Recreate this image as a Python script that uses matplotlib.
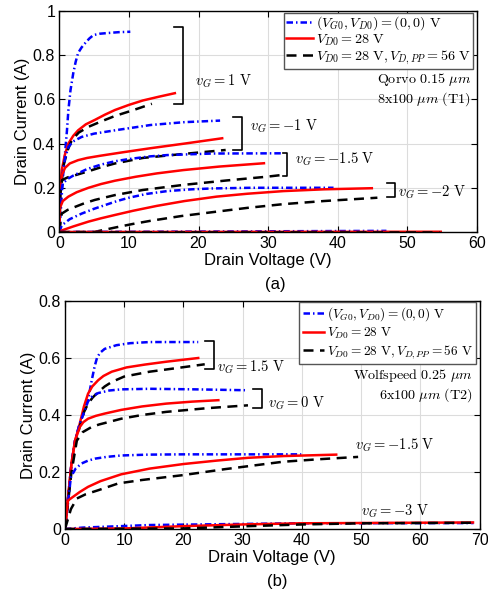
import matplotlib
matplotlib.use('Agg')
import matplotlib.pyplot as plt

plt.rcParams['font.family'] = ['Liberation Sans', 'DejaVu Sans']
plt.rcParams['mathtext.fontset'] = 'cm'

# ---- panel (a): Qorvo 0.15 um, 8x100 um (T1) ----
a_blue_1_V = [0, 0.2, 0.5, 0.82, 1.1, 1.3, 1.6, 2.0, 2.35, 2.7, 3.2, 3.7, 4.3, 4.9, 5.8, 6.9, 8.5, 10.2]
a_blue_1_I = [0, 0.09, 0.24, 0.356, 0.46, 0.55, 0.64, 0.718, 0.77, 0.81, 0.835, 0.854, 0.875, 0.891, 0.897, 0.9, 0.904, 0.906]
a_red_1_V = [0, 0.1, 0.35, 0.8, 1.3, 2.0, 2.7, 3.8, 5.1, 6.5, 8, 10, 12, 14.3, 16.6]
a_red_1_I = [0, 0.18, 0.28, 0.35, 0.4, 0.435, 0.46, 0.487, 0.507, 0.53, 0.552, 0.575, 0.595, 0.612, 0.628]
a_blk_1_V = [0, 0.15, 0.6, 1.2, 1.8, 2.8, 4.2, 6, 8, 10.5, 13.3]
a_blk_1_I = [0, 0.17, 0.3, 0.37, 0.416, 0.45, 0.476, 0.5, 0.525, 0.55, 0.58]

a_blue_m1_V = [0, 0.1, 0.35, 0.8, 1.3, 2.0, 3.2, 5, 8, 13.1, 18, 23.1]
a_blue_m1_I = [0, 0.17, 0.235, 0.33, 0.385, 0.41, 0.43, 0.445, 0.46, 0.484, 0.497, 0.504]
a_red_m1_V = [0, 0.1, 0.4, 0.82, 1.5, 2.7, 4, 5.9, 9, 13.1, 18, 23.4]
a_red_m1_I = [0, 0.2, 0.26, 0.29, 0.31, 0.325, 0.335, 0.345, 0.36, 0.379, 0.4, 0.424]
a_blk_m1_V = [0, 0.1, 0.4, 1.2, 2.3, 4.2, 6, 8, 12, 17.8, 23.9]
a_blk_m1_I = [0, 0.17, 0.235, 0.247, 0.257, 0.275, 0.293, 0.31, 0.335, 0.353, 0.371]

a_blue_m15_V = [0, 0.1, 0.5, 1.2, 2, 3, 4, 6, 8, 10, 13, 15.5, 22, 32.2]
a_blue_m15_I = [0, 0.15, 0.22, 0.24, 0.255, 0.27, 0.285, 0.305, 0.32, 0.33, 0.342, 0.348, 0.355, 0.356]
a_red_m15_V = [0, 0.1, 0.5, 1.3, 2.5, 4.2, 6, 8, 11, 14, 17.8, 23, 29.4]
a_red_m15_I = [0, 0.11, 0.14, 0.16, 0.18, 0.2, 0.217, 0.232, 0.25, 0.265, 0.28, 0.296, 0.311]
a_blk_m15_V = [0, 0.35, 1.2, 2.3, 3.6, 5.1, 8, 12, 17.8, 24, 29.8, 32]
a_blk_m15_I = [0, 0.083, 0.1, 0.114, 0.13, 0.145, 0.167, 0.19, 0.213, 0.233, 0.25, 0.258]

a_blue_m2_V = [0, 0.35, 1.5, 3.2, 5, 6.6, 8.3, 10, 12.5, 15.5, 19, 22, 27.5, 39.4]
a_blue_m2_I = [0, 0.03, 0.058, 0.083, 0.105, 0.122, 0.14, 0.155, 0.172, 0.185, 0.193, 0.197, 0.2, 0.2]
a_red_m2_V = [0, 0.35, 2, 4.2, 6, 8, 10.6, 14, 18, 22.6, 27, 32.2, 38, 44.9]
a_red_m2_I = [0, 0.007, 0.025, 0.047, 0.062, 0.077, 0.096, 0.118, 0.14, 0.16, 0.173, 0.185, 0.193, 0.198]
a_blk_m2_V = [0, 5, 8, 10.5, 13, 17.5, 22.6, 27, 32.2, 38, 45.7]
a_blk_m2_I = [0, 0.0, 0.02, 0.036, 0.05, 0.072, 0.092, 0.109, 0.126, 0.14, 0.155]

a_blue_off_V = [0, 20, 47]
a_blue_off_I = [0, 0.002, 0.005]
a_red_off_V = [0, 54.8]
a_red_off_I = [0, 0.001]
a_blk_off_V = [0, 54.5]
a_blk_off_I = [0, 0.0]

# ---- panel (b): Wolfspeed 0.25 um, 6x100 um (T2) ----
b_blue_15_V = [0, 1.1, 1.7, 2.5, 3.4, 4.0, 4.5, 5.0, 5.4, 5.9, 6.7, 8.7, 11, 14.3, 22.5]
b_blue_15_I = [0, 0.23, 0.31, 0.37, 0.42, 0.465, 0.52, 0.57, 0.6, 0.618, 0.632, 0.645, 0.652, 0.656, 0.656]
b_red_15_V = [0, 1.1, 1.7, 2.5, 3.2, 3.9, 4.6, 5.6, 6.5, 7.9, 10.4, 13.5, 17.1, 22.5]
b_red_15_I = [0, 0.23, 0.31, 0.37, 0.43, 0.475, 0.5, 0.522, 0.537, 0.552, 0.567, 0.577, 0.587, 0.6]
b_blk_15_V = [0, 1.1, 1.7, 2.5, 3.2, 3.9, 4.7, 5.6, 6.7, 7.9, 10, 14.3, 19, 23.6]
b_blk_15_I = [0, 0.22, 0.3, 0.36, 0.41, 0.44, 0.462, 0.48, 0.5, 0.516, 0.535, 0.552, 0.565, 0.578]

b_blue_0_V = [0, 1.1, 1.7, 2.5, 3.4, 3.9, 4.6, 5.6, 7.5, 9.5, 14.3, 22, 30.4]
b_blue_0_I = [0, 0.23, 0.31, 0.37, 0.42, 0.448, 0.465, 0.477, 0.486, 0.49, 0.492, 0.49, 0.487]
b_red_0_V = [0, 1.1, 1.7, 2.5, 3.1, 3.9, 5.2, 6.7, 9.5, 13, 17.1, 21.5, 25.9]
b_red_0_I = [0, 0.23, 0.31, 0.358, 0.375, 0.387, 0.397, 0.405, 0.418, 0.43, 0.44, 0.447, 0.452]
b_blk_0_V = [0, 1.1, 2.0, 3.0, 4.5, 5.8, 7.3, 9.5, 13, 17.1, 24, 30.9]
b_blk_0_I = [0, 0.2, 0.31, 0.34, 0.358, 0.367, 0.375, 0.387, 0.4, 0.411, 0.424, 0.434]

b_blue_m15_V = [0, 1.0, 1.8, 2.8, 3.9, 5.1, 7, 9.5, 14, 20, 39.9]
b_blue_m15_I = [0, 0.183, 0.212, 0.23, 0.24, 0.247, 0.253, 0.258, 0.261, 0.262, 0.262]
b_red_m15_V = [0, 0.5, 1.5, 2.5, 3.9, 6, 9.5, 14.3, 20, 25.6, 31, 36.9, 45.8]
b_red_m15_I = [0, 0.1, 0.115, 0.13, 0.148, 0.168, 0.192, 0.212, 0.228, 0.24, 0.25, 0.256, 0.261]
b_blk_m15_V = [0, 1.0, 2.0, 3.5, 5.6, 9, 13, 19.9, 27, 36.8, 43, 49.5]
b_blk_m15_I = [0, 0.07, 0.107, 0.122, 0.136, 0.16, 0.172, 0.189, 0.21, 0.236, 0.245, 0.253]

b_blue_m3_V = [0, 3, 14.3, 39, 69]
b_blue_m3_I = [0, 0.005, 0.014, 0.02, 0.021]
b_red_m3_V = [0, 10, 20, 30, 39.6, 68.9]
b_red_m3_I = [0, 0.002, 0.01, 0.016, 0.02, 0.023]
b_blk_m3_V = [0, 20, 31, 40, 50, 69]
b_blk_m3_I = [0, 0.002, 0.01, 0.016, 0.02, 0.022]

legend_labels = [r'$(V_{G0},V_{D0})=(0,0)\ \mathrm{V}$',
                 r'$V_{D0}=28\ \mathrm{V}$',
                 r'$V_{D0}=28\ \mathrm{V},V_{D,PP}=56\ \mathrm{V}$']

blue_kw = dict(color='#0000ff', lw=1.8, dashes=[2.6, 1.2, 0.6, 1.2])
red_kw = dict(color='#ff0000', lw=1.8)
blk_kw = dict(color='k', lw=1.8, dashes=[4, 2.6])


def style_axes(ax):
    ax.grid(True, color='#dcdcdc', lw=0.8)
    ax.set_axisbelow(True)
    ax.tick_params(direction='in', top=True, right=True, length=4, labelsize=11.5, pad=3)
    for s in ax.spines.values():
        s.set_linewidth(1.0)


def bracket(ax, x, y0, y1, w):
    ax.plot([x - w, x, x, x - w], [y0, y0, y1, y1], color='k', lw=1.2)


fig = plt.figure(figsize=(4.89, 5.93), dpi=100)

# ---------- (a) ----------
ax1 = fig.add_axes([0.1213, 0.6088, 0.854, 0.3727])
groups_a = [(a_blue_1_V, a_blue_1_I, a_red_1_V, a_red_1_I, a_blk_1_V, a_blk_1_I),
            (a_blue_m1_V, a_blue_m1_I, a_red_m1_V, a_red_m1_I, a_blk_m1_V, a_blk_m1_I),
            (a_blue_m15_V, a_blue_m15_I, a_red_m15_V, a_red_m15_I, a_blk_m15_V, a_blk_m15_I),
            (a_blue_m2_V, a_blue_m2_I, a_red_m2_V, a_red_m2_I, a_blk_m2_V, a_blk_m2_I),
            (a_blue_off_V, a_blue_off_I, a_red_off_V, a_red_off_I, a_blk_off_V, a_blk_off_I)]
h = []
for g in groups_a:
    l1, = ax1.plot(g[0], g[1], **blue_kw)
    l2, = ax1.plot(g[2], g[3], **red_kw)
    l3, = ax1.plot(g[4], g[5], **blk_kw)
    h = [l1, l2, l3]
ax1.set_xlim(0, 60)
ax1.set_ylim(0, 1)
ax1.set_xticks([0, 10, 20, 30, 40, 50, 60])
ax1.set_yticks([0, 0.2, 0.4, 0.6, 0.8, 1])
ax1.set_yticklabels(['0', '0.2', '0.4', '0.6', '0.8', '1'])
style_axes(ax1)
ax1.set_xlabel('Drain Voltage (V)', fontsize=12, labelpad=1)
ax1.set_ylabel('Drain Current (A)', fontsize=12, labelpad=2)
leg = ax1.legend(h, legend_labels, loc='upper right', bbox_to_anchor=(0.99, 0.993),
                 borderaxespad=0, fontsize=10.2, fancybox=False, framealpha=1,
                 edgecolor='#555555', handlelength=1.9, handletextpad=0.2,
                 labelspacing=0.0, borderpad=0.15)
leg.get_frame().set_linewidth(1.0)

bracket(ax1, 17.8, 0.579, 0.929, 1.3)
bracket(ax1, 26.2, 0.371, 0.52, 1.3)
bracket(ax1, 32.7, 0.253, 0.357, 0.6)
bracket(ax1, 48.2, 0.158, 0.222, 1.1)
tk = dict(fontsize=10.5, va='center', ha='left')
ax1.text(19.5, 0.68, r'$v_G=1\ \mathrm{V}$', **tk)
ax1.text(27.4, 0.48, r'$v_G=-1\ \mathrm{V}$', **tk)
ax1.text(33.9, 0.33, r'$v_G=-1.5\ \mathrm{V}$', **tk)
ax1.text(48.7, 0.181, r'$v_G=-2\ \mathrm{V}$', **tk)
ax1.text(59.1, 0.688, r'$\mathrm{Qorvo\ 0.15}\ \mu m$', fontsize=10.2, ha='right', va='center')
ax1.text(59.1, 0.602, r'$\mathrm{8x100}\ \mu m\ \mathrm{(T1)}$', fontsize=10.2, ha='right', va='center')
fig.text(0.562, 0.52, '(a)', fontsize=12, ha='center', va='center')

# ---------- (b) ----------
ax2 = fig.add_axes([0.1329, 0.1079, 0.8477, 0.3845])
groups_b = [(b_blue_15_V, b_blue_15_I, b_red_15_V, b_red_15_I, b_blk_15_V, b_blk_15_I),
            (b_blue_0_V, b_blue_0_I, b_red_0_V, b_red_0_I, b_blk_0_V, b_blk_0_I),
            (b_blue_m15_V, b_blue_m15_I, b_red_m15_V, b_red_m15_I, b_blk_m15_V, b_blk_m15_I),
            (b_blue_m3_V, b_blue_m3_I, b_red_m3_V, b_red_m3_I, b_blk_m3_V, b_blk_m3_I)]
for g in groups_b:
    l1, = ax2.plot(g[0], g[1], **blue_kw)
    l2, = ax2.plot(g[2], g[3], **red_kw)
    l3, = ax2.plot(g[4], g[5], **blk_kw)
    h = [l1, l2, l3]
ax2.set_xlim(0, 70)
ax2.set_ylim(0, 0.8)
ax2.set_xticks([0, 10, 20, 30, 40, 50, 60, 70])
ax2.set_yticks([0, 0.2, 0.4, 0.6, 0.8])
ax2.set_yticklabels(['0', '0.2', '0.4', '0.6', '0.8'])
style_axes(ax2)
ax2.set_xlabel('Drain Voltage (V)', fontsize=12, labelpad=1)
ax2.set_ylabel('Drain Current (A)', fontsize=12, labelpad=2)
leg = ax2.legend(h, legend_labels, loc='upper right', bbox_to_anchor=(0.991, 0.997),
                 borderaxespad=0, fontsize=9.6, fancybox=False, framealpha=1,
                 edgecolor='#555555', handlelength=1.6, handletextpad=0.2,
                 labelspacing=0.2, borderpad=0.25)
leg.get_frame().set_linewidth(1.0)

bracket(ax2, 25.1, 0.563, 0.659, 1.5)
bracket(ax2, 33.3, 0.425, 0.49, 1.6)
ax2.text(25.6, 0.568, r'$v_G=1.5\ \mathrm{V}$', **tk)
ax2.text(34.3, 0.442, r'$v_G=0\ \mathrm{V}$', **tk)
ax2.text(48.9, 0.294, r'$v_G=-1.5\ \mathrm{V}$', **tk)
ax2.text(50.0, 0.064, r'$v_G=-3\ \mathrm{V}$', **tk)
ax2.text(68.8, 0.538, r'$\mathrm{Wolfspeed\ 0.25}\ \mu m$', fontsize=10.2, ha='right', va='center')
ax2.text(68.8, 0.471, r'$\mathrm{6x100}\ \mu m\ \mathrm{(T2)}$', fontsize=10.2, ha='right', va='center')
fig.text(0.566, 0.019, '(b)', fontsize=12, ha='center', va='center')

fig.savefig('out.png', dpi=100)
